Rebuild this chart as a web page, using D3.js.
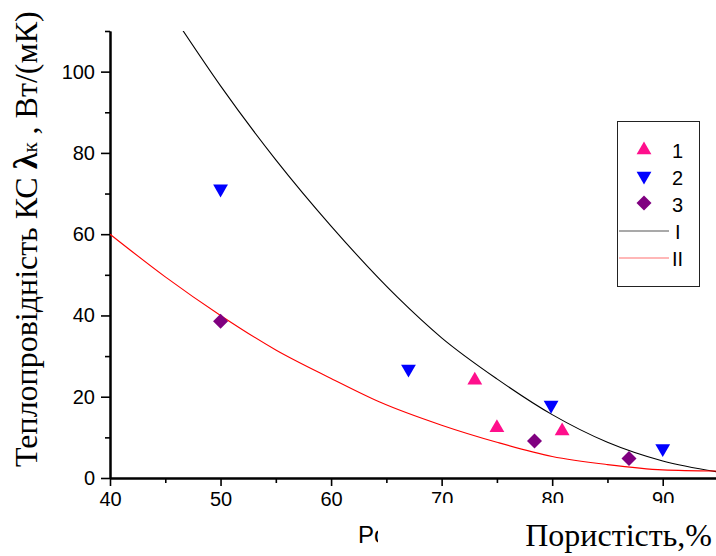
<!DOCTYPE html>
<html>
<head>
<meta charset="utf-8">
<script src="https://cdn.jsdelivr.net/npm/d3@7"></script>
<style>
    body { margin: 0; background: #fff; }
    svg { display: block; }
    .axis path, .axis line { stroke: #000; }
    .times { font-family: "Liberation Serif", "Times New Roman", serif; fill: #000; }
</style>
</head>
<body>
<div id="chart"></div>
<script>
    // porosity, %  /  thermal conductivity
    var series1 = [[73, 24.3], [75, 12.6], [80.9, 11.8]];
    var series2 = [[50, 70.9], [67, 26.6], [79.9, 17.7], [90, 7.0]];
    var series3 = [[50, 38.6], [78.4, 9.1], [86.95, 4.8]];

    var curveI = [[46.5, 110.5], [50, 96.5], [55, 78.3], [60, 62], [66, 44.5], [70, 34.5],
                  [75, 24.4], [80, 15.6], [85, 8.8], [90, 4.2], [95, 1.5]];
    var curveII = [[40, 60], [45, 49.5], [50, 40], [55, 31.5], [60, 24.5], [64.4, 18.7],
                   [70, 13], [75, 8.8], [80, 5.3], [85, 3.3], [90, 2.0], [95, 1.7]];

    var xTicks = [40, 50, 60, 70, 80, 90];
    var xMinor = [45, 55, 65, 75, 85, 95];
    var yTicks = [0, 20, 40, 60, 80, 100];
    var yMinor = [10, 30, 50, 70, 90, 110];
    var legendLabels = ['1', '2', '3', 'I', 'II'];

    var width = 716, height = 556;
    var mLeft = 110, mRight = 718, mTop = 31, mBottom = 478;

    var svg = d3.select("#chart").append("svg")
        .attr("width", width)
        .attr("height", height);

    var x = d3.scaleLinear().domain([40, 95]).range([mLeft, mRight]);
    var y = d3.scaleLinear().domain([0, 110]).range([mBottom, mTop]);

    svg.append("clipPath").attr("id", "plot")
        .append("rect")
        .attr("x", mLeft).attr("y", mTop)
        .attr("width", mRight - mLeft).attr("height", mBottom - mTop);

    // axes: major ticks + minor ticks
    svg.append("g").attr("class", "axis")
        .attr("transform", "translate(0," + mBottom + ")")
        .call(d3.axisBottom(x).tickValues(xTicks).tickSize(8).tickPadding(6).tickSizeOuter(0));
    svg.append("g").attr("class", "axis")
        .attr("transform", "translate(0," + mBottom + ")")
        .call(d3.axisBottom(x).tickValues(xMinor).tickSize(5).tickFormat("").tickSizeOuter(0));

    svg.append("g").attr("class", "axis")
        .attr("transform", "translate(" + mLeft + ",0)")
        .call(d3.axisLeft(y).tickValues(yTicks).tickSize(9).tickPadding(6).tickSizeOuter(0));
    svg.append("g").attr("class", "axis")
        .attr("transform", "translate(" + mLeft + ",0)")
        .call(d3.axisLeft(y).tickValues(yMinor).tickSize(5).tickFormat("").tickSizeOuter(0));

    svg.selectAll(".axis path.domain").attr("stroke-width", 2);
    svg.selectAll(".axis line").attr("stroke-width", 1.6);
    svg.selectAll(".axis text")
        .style("font-family", "Liberation Sans, Arial, sans-serif")
        .style("font-size", "20px")
        .attr("fill", "#000");

    // fitted curves
    var line = d3.line()
        .x(function (d) { return x(d[0]); })
        .y(function (d) { return y(d[1]); })
        .curve(d3.curveMonotoneX);

    var plot = svg.append("g").attr("clip-path", "url(#plot)");

    plot.append("path").datum(curveI)
        .attr("d", line)
        .attr("fill", "none")
        .attr("stroke", "#000")
        .attr("stroke-width", 1.1);

    plot.append("path").datum(curveII)
        .attr("d", line)
        .attr("fill", "none")
        .attr("stroke", "#ff0000")
        .attr("stroke-width", 1.1);

    // markers
    var triUp = d3.symbol().type(d3.symbolTriangle).size(95);
    var diamond = "M0,-7.5L7.5,0L0,7.5L-7.5,0Z";

    plot.selectAll(".s1").data(series1).enter().append("path")
        .attr("class", "s1")
        .attr("d", triUp)
        .attr("transform", function (d) { return "translate(" + x(d[0]) + "," + (y(d[1]) + 1) + ")"; })
        .attr("fill", "#ff0f8c");

    plot.selectAll(".s2").data(series2).enter().append("path")
        .attr("class", "s2")
        .attr("d", triUp)
        .attr("transform", function (d) { return "translate(" + x(d[0]) + "," + (y(d[1]) - 1) + ") rotate(180)"; })
        .attr("fill", "#0000ff");

    plot.selectAll(".s3").data(series3).enter().append("path")
        .attr("class", "s3")
        .attr("d", diamond)
        .attr("transform", function (d) { return "translate(" + x(d[0]) + "," + y(d[1]) + ")"; })
        .attr("fill", "#800080");

    // legend
    var legend = svg.append("g").attr("transform", "translate(617,121)");
    legend.append("rect")
        .attr("x", 0.5).attr("y", 0.5)
        .attr("width", 82).attr("height", 165)
        .attr("fill", "#fff")
        .attr("stroke", "#222")
        .attr("stroke-width", 1);

    var rowY = function (i) { return 30 + i * 27; };

    legend.append("path").attr("d", triUp)
        .attr("transform", "translate(27," + (rowY(0) - 1) + ")").attr("fill", "#ff0f8c");
    legend.append("path").attr("d", triUp)
        .attr("transform", "translate(27," + (rowY(1) - 2) + ") rotate(180)").attr("fill", "#0000ff");
    legend.append("path").attr("d", diamond)
        .attr("transform", "translate(27," + (rowY(2) - 2) + ")").attr("fill", "#800080");
    legend.append("line")
        .attr("x1", 2).attr("x2", 52).attr("y1", rowY(3) - 1).attr("y2", rowY(3) - 1)
        .attr("stroke", "#555").attr("stroke-width", 1.2);
    legend.append("line")
        .attr("x1", 2).attr("x2", 52).attr("y1", rowY(4) - 1).attr("y2", rowY(4) - 1)
        .attr("stroke", "#ff7070").attr("stroke-width", 1.2);

    legend.selectAll(".lbl").data(legendLabels).enter().append("text")
        .attr("class", "lbl")
        .attr("x", function (d, i) { return i === 3 ? 58 : 55; })
        .attr("y", function (d, i) { return rowY(i) + 7; })
        .style("font-family", "Liberation Sans, Arial, sans-serif")
        .style("font-size", "20px")
        .text(function (d) { return d; });

    // original axis title, partly hidden by the pasted caption box
    svg.append("text")
        .attr("x", 358).attr("y", 543)
        .style("font-family", "Liberation Sans, Arial, sans-serif")
        .style("font-size", "24px")
        .text("Pористість");

    svg.append("rect")
        .attr("x", 378).attr("y", 503)
        .attr("width", width - 378).attr("height", height - 503)
        .attr("fill", "#fff");

    svg.append("text")
        .attr("class", "times")
        .attr("x", 712).attr("y", 546)
        .attr("text-anchor", "end")
        .style("font-size", "32px")
        .text("Пористість,%");

    // y axis title
    var yt = svg.append("text")
        .attr("class", "times")
        .attr("transform", "translate(37,467) rotate(-90)")
        .style("font-size", "32px");
    yt.append("tspan").text("Теплопровідність КС ");
    yt.append("tspan").style("font-weight", "bold").style("font-size", "34px").text("λ");
    yt.append("tspan").style("font-size", "21px").text("к");
    yt.append("tspan").text(" , Вт/(мК)");
</script>
</body>
</html>
